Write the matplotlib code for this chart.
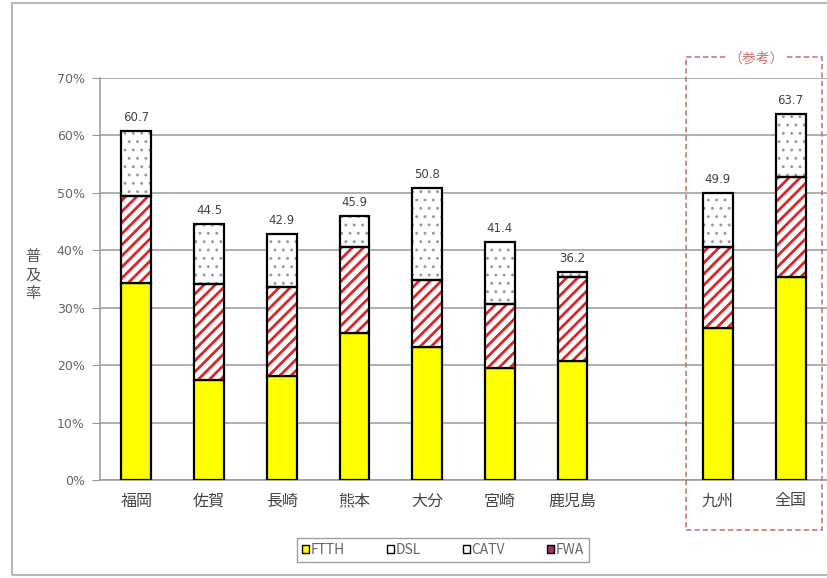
import numpy as np
import matplotlib
matplotlib.use('Agg')
import matplotlib.pyplot as plt
from matplotlib.patches import Rectangle, Patch

plt.rcParams['font.family'] = ['Noto Sans CJK JP', 'DejaVu Sans']
plt.rcParams['hatch.linewidth'] = 2.0

# data (percent)
regions = ['福岡', '佐賀', '長崎', '熊本', '大分', '宮崎', '鹿児島', '九州', '全国']
ftth = [34.3, 17.4, 18.1, 25.6, 23.2, 19.5, 20.7, 26.5, 35.4]
dsl = [15.2, 16.7, 15.5, 15.0, 11.6, 11.2, 14.7, 14.1, 17.4]
catv = [11.2, 10.4, 9.3, 5.3, 16.0, 10.7, 0.8, 9.3, 10.9]
fwa = [0.0, 0.0, 0.0, 0.0, 0.0, 0.0, 0.0, 0.0, 0.0]
totals = [60.7, 44.5, 42.9, 45.9, 50.8, 41.4, 36.2, 49.9, 63.7]
yticks = [0, 10, 20, 30, 40, 50, 60, 70]

TXT = '#444444'
GRID = '#999999'

fig = plt.figure(figsize=(8.27, 5.78), dpi=100)
ax = fig.add_axes([100 / 827, 1 - 480 / 578, 727 / 827, 402 / 578])

# one empty slot between the prefectures and the reference bars
x = np.array(list(range(7)) + [8, 9])
w = 0.41
ftth = np.array(ftth)
dsl = np.array(dsl)
catv = np.array(catv)
fwa = np.array(fwa)

ax.bar(x, ftth, w, color='#ffff00', edgecolor='black', lw=1.6, zorder=3)
# DSL: red diagonal stripes, black outline drawn separately
ax.bar(x, dsl, w, bottom=ftth, color='white', edgecolor='#d9262b', hatch='///', lw=0, zorder=3)
ax.bar(x, dsl, w, bottom=ftth, color='none', edgecolor='black', lw=1.6, zorder=4)
with plt.rc_context({'hatch.linewidth': 0.9}):
    dots = ax.bar(x, catv, w, bottom=ftth + dsl, color='white', edgecolor='#9a9a9a',
                  hatch='..', lw=0, zorder=3)
for p in dots:
    if hasattr(p, 'set_hatch_linewidth'):
        p.set_hatch_linewidth(0.9)
ax.bar(x, catv, w, bottom=ftth + dsl, color='none', edgecolor='black', lw=1.6, zorder=4)
ax.bar(x, fwa, w, bottom=ftth + dsl + catv, color='#993366', edgecolor='black', lw=0, zorder=3)

for xi, t in zip(x, totals):
    ax.annotate(f'{t:.1f}', (xi, t), xytext=(0, 5), textcoords='offset points',
                ha='center', va='bottom', fontsize=8.5, color=TXT, family='DejaVu Sans')

ax.set_xlim(-0.5, 9.5)
ax.set_ylim(0, 70)
ax.set_yticks(yticks)
ax.set_yticklabels([f'{v}%' for v in yticks], fontsize=9, color='#666666', family='DejaVu Sans')
ax.tick_params(axis='y', length=6, color=GRID, pad=5)
ax.set_xticks(x)
ax.set_xticklabels(regions, fontsize=11.5, color=TXT)
ax.tick_params(axis='x', length=0, pad=9)
ax.yaxis.grid(True, color=GRID, lw=1.1, zorder=0)
ax.set_axisbelow(True)
for s in ['top', 'right']:
    ax.spines[s].set_visible(False)
for s in ['left', 'bottom']:
    ax.spines[s].set_color(GRID)
    ax.spines[s].set_linewidth(1.1)

fig.text(33 / 827, 1 - 275 / 578, '普\n及\n率', ha='center', va='center',
         fontsize=11, color='#555555', linespacing=1.15)

# outer frame
fig.patches.append(Rectangle((12 / 827, 3 / 578), 830 / 827, 572 / 578, transform=fig.transFigure,
                             fill=False, ec='#aaaaaa', lw=1.2))
# reference box
fig.patches.append(Rectangle((686 / 827, 1 - 530 / 578), 136 / 827, 473 / 578, transform=fig.transFigure,
                             fill=False, ec='#c86a6a', lw=1.1, ls=(0, (3.5, 2)), zorder=5))
fig.text(756 / 827, 1 - 59 / 578, '（参考）', ha='center', va='center', fontsize=10,
         color='#d07070', zorder=6, bbox=dict(fc='white', ec='none', pad=1))

handles = [Patch(fc='#ffff00', ec='black'), Patch(fc='white', ec='black'),
           Patch(fc='white', ec='black'), Patch(fc='#993366', ec='black')]
leg = fig.legend(handles, ['FTTH', 'DSL', 'CATV', 'FWA'], ncol=4, loc='center',
                 bbox_to_anchor=(443 / 827, 1 - 550 / 578), fontsize=10, frameon=True,
                 fancybox=False, edgecolor='#888888', handlelength=0.5, handleheight=0.5,
                 handletextpad=0.15, columnspacing=3.0, borderpad=0.35, labelcolor='#666666')
leg.get_frame().set_linewidth(1.0)

fig.savefig('out.png', dpi=100)
